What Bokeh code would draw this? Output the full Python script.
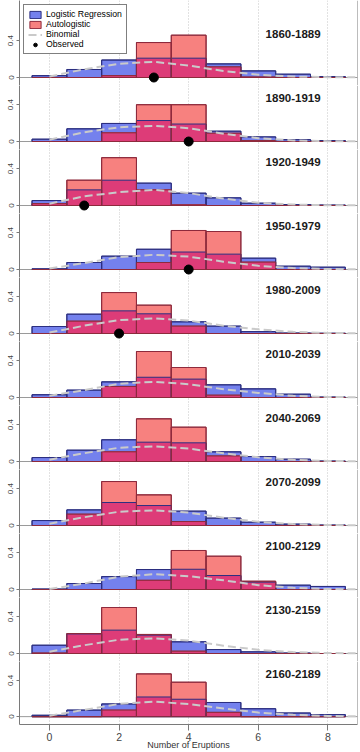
import numpy as np
from bokeh.plotting import figure
from bokeh.layouts import column
from bokeh.models import (Range1d, FixedTicker, Grid, Span, Legend, LegendItem,
                          ColumnDataSource)
from bokeh.core.properties import value
from bokeh.embed import file_html
from bokeh.resources import INLINE

periods = ["1860-1889", "1890-1919", "1920-1949", "1950-1979", "1980-2009",
           "2010-2039", "2040-2069", "2070-2099", "2100-2129", "2130-2159",
           "2160-2189"]
counts = [0, 1, 2, 3, 4, 5, 6, 7, 8]

logistic = [
    [0.020, 0.087, 0.190, 0.210, 0.210, 0.148, 0.072, 0.036, 0.010],
    [0.025, 0.138, 0.196, 0.228, 0.190, 0.112, 0.050, 0.020, 0.010],
    [0.054, 0.170, 0.275, 0.243, 0.134, 0.083, 0.025, 0.010, 0.005],
    [0.007, 0.076, 0.145, 0.220, 0.190, 0.167, 0.123, 0.036, 0.025],
    [0.076, 0.210, 0.246, 0.214, 0.127, 0.080, 0.020, 0.005, 0.003],
    [0.030, 0.080, 0.170, 0.220, 0.200, 0.138, 0.094, 0.036, 0.005],
    [0.043, 0.123, 0.236, 0.210, 0.203, 0.105, 0.054, 0.025, 0.005],
    [0.054, 0.170, 0.250, 0.217, 0.156, 0.080, 0.036, 0.015, 0.005],
    [0.005, 0.065, 0.140, 0.217, 0.220, 0.152, 0.080, 0.047, 0.033],
    [0.090, 0.213, 0.254, 0.200, 0.127, 0.043, 0.018, 0.005, 0.000],
    [0.015, 0.072, 0.140, 0.217, 0.192, 0.156, 0.087, 0.040, 0.022],
]
autologistic = [
    [0.000, 0.000, 0.020, 0.380, 0.460, 0.115, 0.005, 0.000, 0.000],
    [0.000, 0.000, 0.094, 0.400, 0.400, 0.090, 0.010, 0.000, 0.000],
    [0.020, 0.275, 0.520, 0.170, 0.007, 0.000, 0.000, 0.000, 0.000],
    [0.000, 0.000, 0.000, 0.076, 0.424, 0.413, 0.080, 0.000, 0.000],
    [0.000, 0.134, 0.445, 0.308, 0.080, 0.000, 0.000, 0.000, 0.000],
    [0.000, 0.000, 0.120, 0.500, 0.326, 0.025, 0.000, 0.000, 0.000],
    [0.000, 0.000, 0.105, 0.464, 0.373, 0.060, 0.000, 0.000, 0.000],
    [0.000, 0.123, 0.478, 0.333, 0.043, 0.000, 0.000, 0.000, 0.000],
    [0.000, 0.000, 0.000, 0.100, 0.424, 0.362, 0.090, 0.000, 0.000],
    [0.005, 0.217, 0.500, 0.207, 0.025, 0.000, 0.000, 0.000, 0.000],
    [0.000, 0.000, 0.072, 0.472, 0.380, 0.047, 0.000, 0.000, 0.000],
]
binom_x = [0, 1, 2, 3, 4, 5, 6, 7, 8, 9, 10]
binomial = [
    [0.010, 0.090, 0.150, 0.170, 0.130, 0.070, 0.030, 0.010, 0.004, 0.001, 0.0],
    [0.020, 0.100, 0.155, 0.170, 0.145, 0.085, 0.036, 0.012, 0.004, 0.001, 0.0],
    [0.020, 0.100, 0.145, 0.170, 0.135, 0.075, 0.030, 0.010, 0.003, 0.001, 0.0],
    [0.010, 0.070, 0.135, 0.160, 0.140, 0.085, 0.040, 0.015, 0.005, 0.001, 0.0],
    [0.010, 0.085, 0.145, 0.165, 0.140, 0.085, 0.045, 0.018, 0.006, 0.002, 0.0],
    [0.020, 0.080, 0.150, 0.170, 0.145, 0.090, 0.050, 0.018, 0.006, 0.002, 0.0],
    [0.020, 0.090, 0.150, 0.165, 0.140, 0.090, 0.045, 0.018, 0.006, 0.002, 0.0],
    [0.020, 0.090, 0.150, 0.165, 0.140, 0.085, 0.040, 0.015, 0.005, 0.001, 0.0],
    [0.005, 0.065, 0.140, 0.166, 0.145, 0.100, 0.047, 0.018, 0.005, 0.001, 0.0],
    [0.020, 0.090, 0.150, 0.165, 0.140, 0.085, 0.040, 0.015, 0.005, 0.001, 0.0],
    [0.010, 0.075, 0.140, 0.165, 0.140, 0.090, 0.045, 0.020, 0.007, 0.002, 0.0],
]
observed = [3, 4, 1, 4, 2, None, None, None, None, None, None]
x_ticks = [0, 2, 4, 6, 8]
y_ticks = [0, 0.4]
x_title = "Number of Eruptions"

BLUE = "#7481ED"
BLUE_LINE = "#2C2F80"
RED = "#F7817F"
RED_LINE = "#8E2A3C"
OVERLAP = "#DD3C78"
FRAME = "#7a7a7a"
FONT = "Liberation Sans"

PX_PER_UNIT = 92.0
figs = []
n = len(periods)
for i, period in enumerate(periods):
    first = i == 0
    last = i == n - 1
    frame_h = 85 if first else 64
    above_zero = 77 if first else 56
    below_zero = frame_h - above_zero
    p = figure(width=360, height=frame_h + (27 if last else 0),
               output_backend="svg", toolbar_location=None,
               x_range=Range1d(-0.86, 8.85),
               y_range=Range1d(-below_zero / PX_PER_UNIT, above_zero / PX_PER_UNIT),
               x_axis_location="below" if last else None,
               min_border=0, min_border_left=19, min_border_right=3,
               min_border_top=0, min_border_bottom=27 if last else 0)
    p.outline_line_color = None
    p.background_fill_color = "white"
    p.border_fill_color = "white"
    p.grid.visible = False
    p.add_layout(Grid(dimension=0, ticker=FixedTicker(ticks=x_ticks),
                      grid_line_color="#c4c4c4", grid_line_dash="1 2",
                      grid_line_width=1))

    ax = p.yaxis[0]
    ax.ticker = FixedTicker(ticks=y_ticks)
    ax.major_label_overrides = {0: "0", 0.4: "0.4"}
    ax.major_label_orientation = "vertical"
    ax.major_label_text_font = FONT
    ax.major_label_text_font_size = "8px"
    ax.major_label_text_color = "#444444"
    ax.major_label_standoff = 3
    ax.major_tick_out = 3
    ax.major_tick_in = 0
    ax.minor_tick_line_color = None
    ax.axis_line_color = FRAME
    ax.major_tick_line_color = FRAME

    if last:
        xa = p.xaxis[0]
        xa.ticker = FixedTicker(ticks=x_ticks)
        xa.major_label_text_font = FONT
        xa.major_label_text_font_size = "10.5px"
        xa.major_label_text_color = "#444444"
        xa.major_tick_out = 6
        xa.major_tick_in = 0
        xa.major_label_standoff = 2
        xa.minor_tick_line_color = None
        xa.axis_line_color = FRAME
        xa.major_tick_line_color = FRAME
        xa.axis_label = x_title
        xa.axis_label_text_font = FONT
        xa.axis_label_text_font_size = "9px"
        xa.axis_label_text_font_style = "normal"
        xa.axis_label_text_color = "#333333"
        xa.axis_label_standoff = -4

    p.add_layout(Span(location=0, dimension="width", line_color="#9a9a9a",
                      line_width=1, level="underlay"))
    p.add_layout(Span(location=p.x_range.end, dimension="height",
                      line_color=FRAME, line_width=1))

    lg = np.array(logistic[i])
    au = np.array(autologistic[i])
    c = np.array(counts)
    src = ColumnDataSource(dict(left=c - 0.5, right=c + 0.5, bottom=np.zeros(len(c)),
                                lg=lg, au=au, ov=np.minimum(lg, au)))
    r_blue = p.quad(left="left", right="right", bottom="bottom", top="lg", source=src,
                    fill_color=BLUE, line_color=BLUE_LINE, line_width=1)
    r_red = p.quad(left="left", right="right", bottom="bottom", top="au", source=src,
                   fill_color=RED, line_color=RED_LINE, line_width=1)
    p.quad(left="left", right="right", bottom="bottom", top="ov", source=src,
           fill_color=OVERLAP, line_color=None)
    p.quad(left="left", right="right", bottom="bottom", top="lg", source=src,
           fill_color=None, line_color=BLUE_LINE, line_width=1)
    p.quad(left="left", right="right", bottom="bottom", top="au", source=src,
           fill_color=None, line_color=RED_LINE, line_width=1)

    r_bin = p.line(binom_x, binomial[i], line_color="#cacaca", line_width=2,
                   line_dash="8 4")

    r_obs = None
    if observed[i] is not None:
        r_obs = p.scatter([observed[i]], [0], size=9, color="black")

    p.text(x=[7], y=[0.475], text=[period], text_font=value(FONT),
           text_font_style="bold", text_font_size="11.5px", text_align="center",
           text_baseline="middle", text_color="#1a1a1a")

    if first:
        legend = Legend(items=[
            LegendItem(label="Logistic Regression", renderers=[r_blue]),
            LegendItem(label="Autologistic", renderers=[r_red]),
            LegendItem(label="Binomial", renderers=[r_bin]),
            LegendItem(label="Observed", renderers=[r_obs]),
        ], location="top_left", margin=4, padding=4, spacing=0,
            label_height=9, glyph_height=9, glyph_width=14, label_standoff=4,
            label_text_font=FONT, label_text_font_size="8.7px",
            label_text_color="black", border_line_color="black",
            border_line_width=1, background_fill_color="white",
            background_fill_alpha=1.0)
        p.add_layout(legend)

    figs.append(p)

layout = column(*figs, spacing=0)
open("out.html", "w").write(file_html(layout, INLINE))
